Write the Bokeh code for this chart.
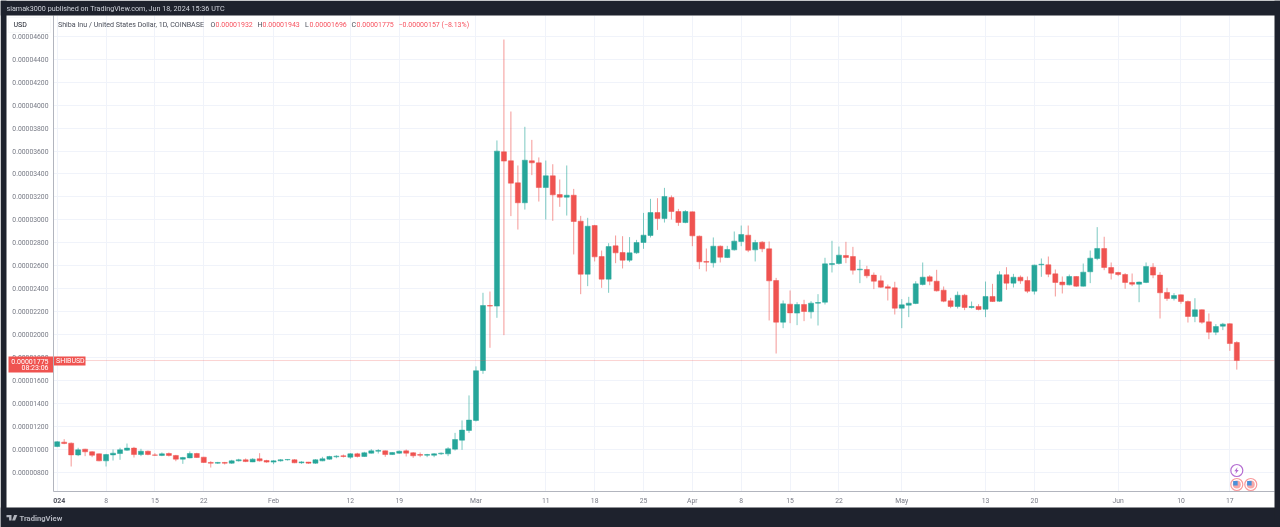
from bokeh.plotting import figure
from bokeh.embed import file_html
from bokeh.resources import INLINE
from bokeh.models import (BoxAnnotation, Label, Span, FixedTicker, PrintfTickFormatter,
                          PolyAnnotation, ColumnDataSource)

UNIT = 1e-5
open_ = [1.026,1.064,1.055,.953,1.003,.98,.962,.901,.953,.965,.994,1.012,.956,.985,.953,.948,.965,.948,.916,.927,.965,.933,.887,.881,.887,.881,.901,.91,.892,.919,.904,
 .89,.901,.91,.91,.884,.89,.881,.901,.916,.936,.945,.933,.962,.939,.968,.985,.988,.956,.968,.988,.971,.956,.95,.95,.962,.962,1.003,1.081,1.166,
 1.253,1.688,2.254,2.249,3.593,3.515,3.323,3.149,3.515,3.497,3.282,3.384,3.221,3.198,3.215,2.989,2.527,2.951,2.681,2.484,2.774,2.716,2.649,2.713,2.803,2.864,3.064,3.012,3.195,3.073,2.977,
 3.07,2.858,2.638,2.626,2.771,2.672,2.739,2.812,2.867,2.739,2.806,2.748,2.472,2.109,2.266,2.188,2.263,2.199,2.275,2.283,2.611,2.62,2.69,2.681,2.565,2.568,2.519,2.469,2.417,2.408,
 2.231,2.257,2.272,2.437,2.504,2.466,2.388,2.295,2.246,2.344,2.237,2.246,2.222,2.333,2.292,2.522,2.449,2.501,2.472,2.379,2.609,2.609,2.53,2.458,2.434,2.507,2.423,2.548,2.664,2.751,2.585,
 2.542,2.524,2.455,2.44,2.455,2.588,2.519,2.368,2.315,2.347,2.289,2.159,2.217,2.112,2.022,2.074,2.095,1.932]
high = [1.073,1.09,1.061,1.015,1.006,.985,.965,.962,1.0,1.015,1.052,1.023,1.006,.991,.968,.974,.974,.953,.936,.983,.971,.936,.898,.892,.892,.91,.919,.922,.924,.968,.91,
 .907,.916,.916,.916,.898,.892,.916,.936,.945,.95,.956,.968,.971,.98,1.003,1.003,.991,.977,.991,1.0,.977,.974,.962,.968,.974,1.02,1.145,1.253,1.471,
 1.724,2.365,2.376,3.692,4.571,3.944,3.474,3.811,3.697,3.544,3.517,3.485,3.352,3.474,3.27,3.035,3.018,2.957,2.733,2.797,2.864,2.858,2.85,2.826,3.061,3.183,3.189,3.279,3.213,3.096,3.085,
 3.073,2.864,2.751,2.847,2.777,2.774,2.899,2.951,2.951,2.826,2.815,2.812,2.495,2.298,2.385,2.283,2.304,2.292,2.353,2.67,2.818,2.768,2.809,2.765,2.652,2.6,2.542,2.516,2.437,2.461,
 2.31,2.33,2.466,2.629,2.519,2.565,2.42,2.321,2.376,2.356,2.289,2.266,2.463,2.443,2.553,2.588,2.53,2.516,2.507,2.61,2.664,2.681,2.568,2.507,2.524,2.51,2.62,2.733,2.937,2.853,2.629,
 2.548,2.536,2.533,2.463,2.629,2.623,2.545,2.408,2.362,2.35,2.298,2.318,2.22,2.185,2.092,2.103,2.1,1.943]
low = [1.02,1.046,.852,.942,.942,.933,.898,.852,.904,.91,.988,.93,.942,.95,.945,.942,.939,.898,.875,.924,.927,.884,.843,.875,.869,.875,.895,.89,.89,.895,.884,
 .872,.895,.904,.881,.875,.875,.875,.898,.91,.924,.93,.919,.93,.936,.965,.965,.936,.953,.962,.939,.927,.933,.933,.933,.953,.942,.991,.997,1.145,
 1.244,1.659,1.886,2.147,1.996,3.033,2.916,3.09,3.39,3.16,3.003,2.992,3.114,3.038,2.699,2.353,2.423,2.638,2.408,2.365,2.623,2.577,2.632,2.704,2.748,2.847,2.913,2.977,3.003,2.948,2.971,
 2.771,2.571,2.551,2.585,2.629,2.668,2.733,2.771,2.719,2.638,2.719,2.124,1.836,2.057,2.1,2.083,2.118,2.141,2.08,2.263,2.542,2.612,2.623,2.524,2.449,2.492,2.397,2.408,2.298,2.176,
 2.057,2.153,2.266,2.429,2.431,2.376,2.283,2.231,2.228,2.214,2.228,2.212,2.153,2.286,2.286,2.391,2.411,2.443,2.362,2.35,2.504,2.501,2.333,2.359,2.429,2.417,2.42,2.449,2.649,2.562,2.481,
 2.51,2.4,2.423,2.283,2.449,2.492,2.141,2.295,2.298,2.269,2.106,2.109,2.095,1.961,1.996,2.04,1.859,1.696]
close = [1.067,1.052,.953,.997,.98,.95,.901,.956,.968,.997,1.012,.956,.985,.956,.95,.962,.948,.916,.93,.965,.93,.887,.881,.887,.881,.901,.91,.895,.916,.901,.89,
 .901,.91,.913,.884,.892,.881,.91,.919,.939,.942,.939,.962,.939,.971,.988,.991,.956,.974,.985,.968,.945,.95,.956,.962,.968,1.006,1.087,1.169,1.256,
 1.686,2.254,2.249,3.599,3.512,3.32,3.149,3.52,3.497,3.282,3.384,3.218,3.198,3.215,2.986,2.527,2.945,2.678,2.484,2.768,2.713,2.649,2.713,2.803,2.867,3.064,3.012,3.204,3.073,2.977,3.073,
 2.861,2.635,2.632,2.771,2.675,2.742,2.815,2.873,2.736,2.803,2.748,2.469,2.109,2.269,2.19,2.263,2.202,2.275,2.28,2.617,2.62,2.693,2.672,2.562,2.571,2.513,2.466,2.414,2.405,2.231,
 2.26,2.275,2.443,2.501,2.466,2.382,2.292,2.246,2.344,2.237,2.246,2.22,2.333,2.289,2.522,2.449,2.501,2.469,2.379,2.606,2.614,2.527,2.455,2.434,2.507,2.423,2.545,2.667,2.751,2.585,2.536,
 2.524,2.455,2.44,2.458,2.594,2.519,2.365,2.315,2.341,2.289,2.159,2.217,2.109,2.022,2.071,2.092,1.923,1.775]
assert len(open_) == len(high) == len(low) == len(close) == 170, (len(open_), len(high), len(low), len(close))

tick_days = [0, 7, 14, 21, 31, 42, 49, 60, 70, 77, 84, 91, 98, 105, 112, 121, 133, 140, 152, 161, 168]
tick_labels = ["", "8", "15", "22", "Feb", "12", "19", "Mar", "11", "18", "25", "Apr", "8", "15", "22", "May", "13", "20", "Jun", "10", "17"]
price_ticks = [0.8, 1.0, 1.2, 1.4, 1.6, 1.8, 2.0, 2.2, 2.4, 2.6, 2.8, 3.0, 3.2, 3.4, 3.6, 3.8, 4.0, 4.2, 4.4, 4.6]
last_price = 1.775

UP, DOWN, TXTRED, DARK = "#26a69a", "#ef5350", "#f7525f", "#1e222d"
GRID, AXIS, TXT = "#f0f3fa", "#b2b5be", "#787b86"
FONT = "Roboto"
FIXED = {"position": "fixed", "top": "0", "left": "0"}

days = list(range(len(open_)))
src = ColumnDataSource(dict(
    x=days,
    o=[v * UNIT for v in open_], h=[v * UNIT for v in high],
    l=[v * UNIT for v in low], c=[v * UNIT for v in close],
    top=[max(a, b) * UNIT for a, b in zip(open_, close)],
    bot=[min(a, b) * UNIT for a, b in zip(open_, close)],
    col=[UP if b >= a else DOWN for a, b in zip(open_, close)],
))

p = figure(width=1280, height=527, output_backend="svg", toolbar_location=None,
           x_range=(-0.53, 174.4), y_range=(0.6341 * UNIT, 4.7805 * UNIT),
           min_border_left=53, min_border_right=6, min_border_top=15, min_border_bottom=36)
p.styles = FIXED
p.outline_line_color = None
p.background_fill_color = "white"
p.border_fill_color = "white"

p.segment("x", "h", "x", "l", source=src, line_color="col", line_width=1, line_alpha=0.6)
p.vbar(x="x", width=0.72, top="top", bottom="bot", source=src, fill_color="col", line_color="col", line_width=0.5)

xa, ya = p.xaxis[0], p.yaxis[0]
xa.ticker = FixedTicker(ticks=tick_days)
xa.major_label_overrides = dict(zip(tick_days, tick_labels))
ya.ticker = FixedTicker(ticks=[v * UNIT for v in price_ticks])
ya.formatter = PrintfTickFormatter(format="%.8f")
for a in (xa, ya):
    a.axis_line_color = AXIS
    a.axis_line_width = 1
    a.major_tick_line_color = None
    a.minor_tick_line_color = None
    a.major_tick_out = 0
    a.major_tick_in = 0
    a.major_label_text_font = FONT
    a.major_label_text_font_size = "6.8px"
    a.major_label_text_color = TXT
ya.major_label_standoff = 5
xa.major_label_standoff = 5
p.xgrid.grid_line_color = GRID
p.ygrid.grid_line_color = GRID

p.add_layout(Span(location=last_price * UNIT, dimension="width", line_color=DOWN, line_width=1,
                  line_alpha=0.5, line_dash="1 1"))

# event icons on the time scale
event_days = [169, 169, 171]
event_prices = [0.817, 0.695, 0.695]
event_colors = ["#b56fd2", "#f99a9c", "#f99a9c"]
p.scatter(x=event_days, y=[v * UNIT for v in event_prices], size=12, marker="circle", fill_color="white",
          line_color=event_colors, line_width=1.2)
p.scatter(x=event_days[1:], y=[v * UNIT for v in event_prices[1:]], size=8, marker="circle", fill_color="#f7a8a8",
          line_color=None)
p.scatter(x=[d - 0.2 for d in event_days[1:]], y=[(v + 0.012) * UNIT for v in event_prices[1:]], size=4.5,
          marker="square", fill_color="#4a90d9", line_color=None)

# transparent sheet over the chart: window chrome, tags and header texts
q = figure(width=1280, height=527, output_backend="svg", toolbar_location=None,
           x_range=(0, 1), y_range=(0, 1), x_axis_type=None, y_axis_type=None, min_border=0)
q.styles = FIXED
q.outline_line_color = None
q.background_fill_alpha = 0
q.border_fill_alpha = 0

def box(l, r, t, b, color, line=None):
    q.add_layout(BoxAnnotation(left=l, right=r, top=t, bottom=b, left_units="canvas", right_units="canvas",
                               top_units="canvas", bottom_units="canvas", fill_color=color, fill_alpha=1,
                               line_color=line))

def label(x, y, text, color=TXT, size="7px", style="normal", align="left"):
    q.add_layout(Label(x=x, y=y, x_units="canvas", y_units="canvas", text=text, text_color=color,
                       text_font=FONT, text_font_size=size, text_font_style=style, text_align=align,
                       text_baseline="middle"))

def poly(xs, ys, color):
    q.add_layout(PolyAnnotation(xs=xs, ys=ys, xs_units="canvas", ys_units="canvas", fill_color=color,
                                fill_alpha=1, line_color=None))

# bold year label, clipped by the price pane
label(56.7, 499.5, "2024", "#50535e", style="bold", align="center")
box(6, 52.5, 492, 507, "white")
# chrome bands
box(0, 1280, 0, 15, DARK)
box(0, 1280, 507, 527, DARK)
box(0, 6, 0, 527, DARK)
box(1274, 1280, 0, 527, DARK)
# USD box
box(8, 50, 17, 32, "white", "#e8eaf0")
label(13, 24.5, "USD", "#131722")
# last price tags
box(8, 52.5, 356, 372, DOWN)
box(53.5, 85, 356, 365, DOWN)
label(48, 360.5, "0.00001775", "white", align="right")
label(48, 367.5, "08:23:06", "white", align="right")
label(55.5, 360.5, "SHIBUSD", "white")
# header
label(6, 8, "siamak3000 published on TradingView.com, Jun 18, 2024 15:36 UTC", "#d1d4dc", size="7.2px")
label(57.5, 24, "Shiba Inu / United States Dollar, 1D, COINBASE", "#4a4e5a", size="7.1px")
for lx, ltxt, vx, vtxt in [(210, "O", 215, "0.00001932"), (257, "H", 262, "0.00001943"),
                           (304.5, "L", 309, "0.00001696"), (351, "C", 356, "0.00001775")]:
    label(lx, 24, ltxt, "#4a4e5a")
    label(vx, 24, vtxt, TXTRED)
label(398, 24, "\u22120.00000157 (\u22128.13%)", TXTRED)
# footer
label(19, 517.5, "TradingView", "#b2b5be", size="7.6px", style="bold")
poly([6, 11, 11, 8.6, 8.6, 6], [514.5, 514.5, 520, 520, 516.8, 516.8], "#b2b5be")
poly([13.6, 16.8, 14.6, 11.6], [514.5, 514.5, 520, 520], "#b2b5be")
# lightning bolt in the purple event icon
poly([1237, 1233.8, 1235.6, 1235, 1238.2, 1236.4], [466.8, 470.8, 470.8, 473.4, 469.4, 469.4], "#b56fd2")

open("out.html", "w").write(file_html([p, q], INLINE))
